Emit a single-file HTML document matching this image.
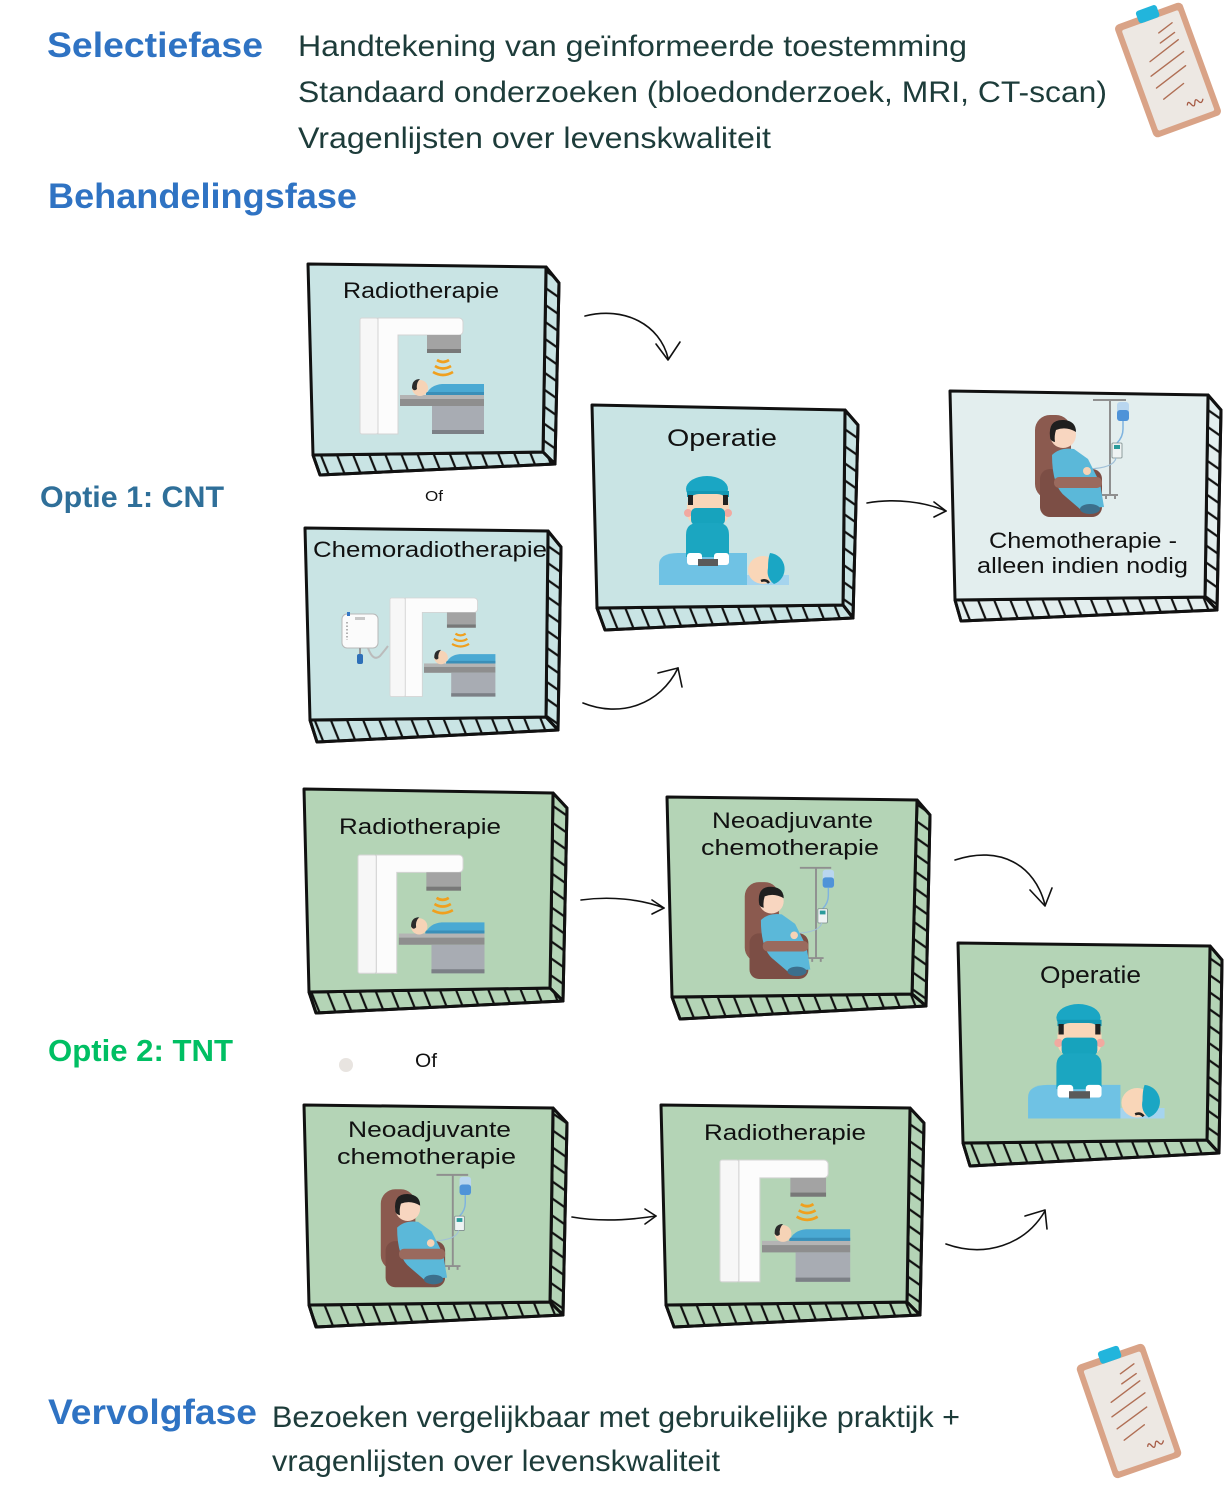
<!DOCTYPE html>
<html><head><meta charset="utf-8">
<style>
html,body{margin:0;padding:0;background:#fff;}
svg{display:block;}
text{font-family:"Liberation Sans",sans-serif;}
</style></head>
<body>
<svg width="1226" height="1489" viewBox="0 0 1226 1489" xmlns="http://www.w3.org/2000/svg">
<defs>
  <pattern id="hb" width="15" height="15" patternUnits="userSpaceOnUse" patternTransform="rotate(-22)">
    <line x1="7" y1="-2" x2="7" y2="17" stroke="#111" stroke-width="2.2"/>
  </pattern>
  <pattern id="hs" width="14" height="14" patternUnits="userSpaceOnUse" patternTransform="rotate(35)">
    <line x1="-2" y1="7" x2="16" y2="7" stroke="#111" stroke-width="2.2"/>
  </pattern>

  <g id="radio">
    <rect x="0" y="0" width="18" height="116" rx="2" fill="#f7f7f7" stroke="#d6d6d6" stroke-width="1"/>
    <path d="M18 0 H99 a4 4 0 0 1 4 4 V13 a4 4 0 0 1 -4 4 H38 V116 H18 Z" fill="#fcfcfc" stroke="#d3d3d3" stroke-width="1"/>
    <rect x="67" y="17" width="34" height="14" fill="#a3a3a3"/>
    <rect x="67" y="31" width="34" height="4" fill="#787878"/>
    <path d="M77 42 q6 4 12 0" stroke="#f0a01e" stroke-width="2.6" fill="none"/>
    <path d="M75 48 q8 5 16 0" stroke="#f0a01e" stroke-width="2.6" fill="none"/>
    <path d="M73 54 q10 6 20 0" stroke="#f0a01e" stroke-width="2.6" fill="none"/>
    <rect x="40" y="77" width="84" height="4" fill="#b4b4b4"/>
    <rect x="40" y="81" width="84" height="7" fill="#8e8e8e"/>
    <rect x="72" y="88" width="52" height="28" fill="#a8acb3"/>
    <rect x="72" y="112" width="52" height="4" fill="#7c8086"/>
    <path d="M66 77 q4 -10 16 -11 h42 v11 Z" fill="#4aa9d3"/>
    <path d="M66 77 h58 v-3 h-58 Z" fill="#3a8fb8"/>
    <circle cx="60" cy="70" r="8" fill="#f6d3b6"/>
    <path d="M52 70 q0 -9 8 -9 q-4 4 -3 10 q-3 3 -5 -1Z" fill="#2b2b2b"/>
  </g>

  <g id="chemo">
    <line x1="80" y1="3" x2="80" y2="98" stroke="#8f8f8f" stroke-width="2"/>
    <line x1="63" y1="3" x2="96" y2="3" stroke="#8f8f8f" stroke-width="2"/>
    <path d="M72 98 h16 M76 98 v4 M85 98 v4" stroke="#8f8f8f" stroke-width="2"/>
    <rect x="87" y="5" width="12" height="19" rx="3" fill="#b9d6ef"/>
    <rect x="87" y="13" width="12" height="11" rx="3" fill="#4f93d8"/>
    <path d="M93 24 v8 q0 8 -6 14" stroke="#7fb3df" stroke-width="1.5" fill="none"/>
    <rect x="82" y="46" width="10" height="15" rx="1" fill="#eef3f3" stroke="#7a8a8a" stroke-width="0.8"/>
    <rect x="84" y="48" width="6" height="4" fill="#2a9b9b"/>
    <path d="M86 61 q-2 10 -28 11" stroke="#a0c0d8" stroke-width="1.2" fill="none"/>
    <rect x="5" y="18" width="36" height="84" rx="15" fill="#8b5a4f"/>
    <rect x="10" y="72" width="62" height="48" rx="10" fill="#7c4e45"/>
    <path d="M22 58 Q30 50 44 52 L58 62 L70 86 L74 110 L50 112 L36 100 Q22 90 22 58Z" fill="#5bb8d9"/>
    <rect x="24" y="80" width="48" height="11" rx="5" fill="#9a6a5e"/>
    <circle cx="57" cy="74" r="4" fill="#f6d3b6"/>
    <circle cx="33" cy="38" r="13" fill="#f8d6c0"/>
    <path d="M20 40 q-2 -18 14 -17 q12 1 12 12 q-10 -6 -20 -2 q-2 6 -1 12 q-5 -1 -5 -5Z" fill="#1f1f1f"/>
    <ellipse cx="60" cy="112" rx="10" ry="5" fill="#3c6f8c"/>
  </g>

  <g id="surgeon">
    <path d="M1 110 V90 Q1 78 20 78 H89 V110 Z" fill="#6fc2e4"/>
    <ellipse cx="49" cy="14" rx="21" ry="13" fill="#1aa6c4"/>
    <rect x="29" y="16" width="42" height="6" fill="#1497b3"/>
    <rect x="29" y="19" width="42" height="31" rx="12" fill="#f9d6b8"/>
    <rect x="30" y="20" width="5" height="10" fill="#222"/>
    <rect x="65" y="20" width="5" height="10" fill="#222"/>
    <circle cx="30" cy="38" r="4" fill="#f2a9a0"/>
    <circle cx="70" cy="38" r="4" fill="#f2a9a0"/>
    <rect x="33" y="33" width="34" height="17" rx="5" fill="#17a3bd"/>
    <path d="M28 82 V60 Q28 48 40 48 H60 Q71 48 71 60 V82 Z" fill="#1ba6c1"/>
    <rect x="29" y="78" width="15" height="12" rx="3" fill="#ffffff"/>
    <rect x="56" y="78" width="15" height="12" rx="3" fill="#ffffff"/>
    <rect x="40" y="84" width="20" height="7" fill="#5a5a5a"/>
    <rect x="89" y="100" width="42" height="10" fill="#a5d4ee"/>
    <ellipse cx="105" cy="95" rx="15" ry="14" fill="#f9d6b8"/>
    <path d="M112 78 a16 16 0 0 1 4 31 q-8 -6 -6 -16 q0 -10 2 -15Z" fill="#1aa6c4"/>
    <path d="M103 106 q5 -2 8 2" stroke="#222" stroke-width="2.5" fill="none"/>
  </g>

  <g id="clip">
    <rect x="-36" y="-60" width="72" height="120" rx="5" fill="#d9a387"/>
    <rect x="-30" y="-53" width="60" height="107" rx="2" fill="#ede8e3"/>
    <rect x="-11" y="-66" width="22" height="13" rx="3" fill="#22b5dc"/>
    <path d="M4 -38 L20 -43 M2 -28 L19 -33 M-14 -14 L20 -25 M-18 0 L21 -12 M-17 13 L18 2 M-14 26 L10 18" stroke="#b06f55" stroke-width="1.4" fill="none" stroke-linecap="round"/>
    <path d="M6 40 q2 -5 4 0 q2 5 4 0 q2 -5 4 0 q2 4 5 -1" stroke="#a65b45" stroke-width="1.3" fill="none"/>
  </g>
</defs>

<!-- Clipboards -->
<use href="#clip" transform="translate(1168,70) rotate(-20)"/>
<use href="#clip" transform="translate(1129,1411) rotate(-19)"/>

<!-- Header text -->
<text x="47" y="57" font-size="35" font-weight="bold" fill="#2f73c3" textLength="216" lengthAdjust="spacingAndGlyphs">Selectiefase</text>
<text x="298" y="56" font-size="30" fill="#1d3c3a" textLength="669" lengthAdjust="spacingAndGlyphs">Handtekening van geïnformeerde toestemming</text>
<text x="298" y="102" font-size="30" fill="#1d3c3a" textLength="809" lengthAdjust="spacingAndGlyphs">Standaard onderzoeken (bloedonderzoek, MRI, CT-scan)</text>
<text x="298" y="148" font-size="30" fill="#1d3c3a" textLength="473" lengthAdjust="spacingAndGlyphs">Vragenlijsten over levenskwaliteit</text>
<text x="48" y="208" font-size="35" font-weight="bold" fill="#2f73c3" textLength="309" lengthAdjust="spacingAndGlyphs">Behandelingsfase</text>

<text x="40" y="507" font-size="30" font-weight="bold" fill="#2f6f99" textLength="184" lengthAdjust="spacingAndGlyphs">Optie 1: CNT</text>
<text x="48" y="1061" font-size="31" font-weight="bold" fill="#00bf63" textLength="185" lengthAdjust="spacingAndGlyphs">Optie 2: TNT</text>

<text x="425" y="501" font-size="15" fill="#111" textLength="18" lengthAdjust="spacingAndGlyphs">Of</text>
<circle cx="346" cy="1065" r="7" fill="#e8e4e0"/>
<text x="415" y="1067" font-size="19" fill="#111" textLength="22" lengthAdjust="spacingAndGlyphs">Of</text>

<text x="48" y="1424" font-size="35" font-weight="bold" fill="#2f73c3" textLength="209" lengthAdjust="spacingAndGlyphs">Vervolgfase</text>
<text x="272" y="1427" font-size="30" fill="#1d3c3a" textLength="688" lengthAdjust="spacingAndGlyphs">Bezoeken vergelijkbaar met gebruikelijke praktijk +</text>
<text x="272" y="1471" font-size="30" fill="#1d3c3a" textLength="448" lengthAdjust="spacingAndGlyphs">vragenlijsten over levenskwaliteit</text>

<!-- Boxes -->
<g stroke="#111" stroke-width="3" stroke-linejoin="round">
  <!-- A -->
  <polygon points="546,267 559,283 555,464 543,452" fill="#c9e4e4"/>
  <polygon points="546,267 559,283 555,464 543,452" fill="url(#hs)"/>
  <polygon points="313,455 543,452 555,464 320,475" fill="#c9e4e4"/>
  <polygon points="313,455 543,452 555,464 320,475" fill="url(#hb)"/>
  <polygon points="308,264 546,267 543,452 313,455" fill="#c9e4e4"/>
  <!-- B -->
  <polygon points="548,531 561,547 558,730 546,717" fill="#c9e4e4"/>
  <polygon points="548,531 561,547 558,730 546,717" fill="url(#hs)"/>
  <polygon points="310,720 546,717 558,730 317,742" fill="#c9e4e4"/>
  <polygon points="310,720 546,717 558,730 317,742" fill="url(#hb)"/>
  <polygon points="305,528 548,531 546,717 310,720" fill="#c9e4e4"/>
  <!-- C -->
  <polygon points="845,410 858,425 853,618 843,605" fill="#c9e4e4"/>
  <polygon points="845,410 858,425 853,618 843,605" fill="url(#hs)"/>
  <polygon points="597,608 843,605 853,618 605,630" fill="#c9e4e4"/>
  <polygon points="597,608 843,605 853,618 605,630" fill="url(#hb)"/>
  <polygon points="592,405 845,410 843,605 597,608" fill="#c9e4e4"/>
  <!-- D -->
  <polygon points="1208,395 1221,410 1217,610 1205,597" fill="#e3eeee"/>
  <polygon points="1208,395 1221,410 1217,610 1205,597" fill="url(#hs)"/>
  <polygon points="955,600 1205,597 1217,610 961,621" fill="#e3eeee"/>
  <polygon points="955,600 1205,597 1217,610 961,621" fill="url(#hb)"/>
  <polygon points="950,391 1208,395 1205,597 955,600" fill="#e3eeee"/>
  <!-- E -->
  <polygon points="553,793 567,808 563,1001 550,988" fill="#b4d4b6"/>
  <polygon points="553,793 567,808 563,1001 550,988" fill="url(#hs)"/>
  <polygon points="309,992 550,988 563,1001 316,1013" fill="#b4d4b6"/>
  <polygon points="309,992 550,988 563,1001 316,1013" fill="url(#hb)"/>
  <polygon points="304,789 553,793 550,988 309,992" fill="#b4d4b6"/>
  <!-- F -->
  <polygon points="917,800 930,815 926,1006 912,994" fill="#b4d4b6"/>
  <polygon points="917,800 930,815 926,1006 912,994" fill="url(#hs)"/>
  <polygon points="672,997 912,994 926,1006 680,1019" fill="#b4d4b6"/>
  <polygon points="672,997 912,994 926,1006 680,1019" fill="url(#hb)"/>
  <polygon points="667,797 917,800 912,994 672,997" fill="#b4d4b6"/>
  <!-- G -->
  <polygon points="1210,946 1222,960 1219,1153 1207,1140" fill="#b4d4b6"/>
  <polygon points="1210,946 1222,960 1219,1153 1207,1140" fill="url(#hs)"/>
  <polygon points="963,1143 1207,1140 1219,1153 970,1166" fill="#b4d4b6"/>
  <polygon points="963,1143 1207,1140 1219,1153 970,1166" fill="url(#hb)"/>
  <polygon points="958,943 1210,946 1207,1140 963,1143" fill="#b4d4b6"/>
  <!-- H -->
  <polygon points="553,1108 567,1123 563,1315 550,1302" fill="#b4d4b6"/>
  <polygon points="553,1108 567,1123 563,1315 550,1302" fill="url(#hs)"/>
  <polygon points="309,1305 550,1302 563,1315 316,1327" fill="#b4d4b6"/>
  <polygon points="309,1305 550,1302 563,1315 316,1327" fill="url(#hb)"/>
  <polygon points="304,1105 553,1108 550,1302 309,1305" fill="#b4d4b6"/>
  <!-- I -->
  <polygon points="910,1108 924,1123 920,1315 907,1302" fill="#b4d4b6"/>
  <polygon points="910,1108 924,1123 920,1315 907,1302" fill="url(#hs)"/>
  <polygon points="666,1305 907,1302 920,1315 674,1327" fill="#b4d4b6"/>
  <polygon points="666,1305 907,1302 920,1315 674,1327" fill="url(#hb)"/>
  <polygon points="661,1105 910,1108 907,1302 666,1305" fill="#b4d4b6"/>
</g>

<!-- Illustrations -->
<use href="#radio" transform="translate(360,318)"/>
<use href="#radio" transform="translate(358,855) scale(1.02)"/>
<use href="#radio" transform="translate(720,1160) scale(1.05)"/>
<use href="#radio" transform="translate(390,598) scale(0.85)"/>
<!-- IV bag in chemoradiotherapie -->
<g>
  <rect x="342" y="614" width="36" height="34" rx="5" fill="#fbfbfb" stroke="#b8b8b8" stroke-width="1"/>
  <rect x="355" y="617" width="10" height="3" fill="#c8c8c8"/>
  <path d="M347 622 v18" stroke="#999" stroke-width="1.5" stroke-dasharray="1.5 2"/>
  <rect x="347" y="612" width="3" height="4" fill="#3577c4"/>
  <path d="M360 648 v6" stroke="#999" stroke-width="2"/>
  <rect x="357" y="654" width="6" height="10" rx="2" fill="#2d6fb8"/>
  <path d="M368 648 q5 14 12 8 q5 -6 8 -10" stroke="#bbb" stroke-width="2" fill="none"/>
</g>
<use href="#chemo" transform="translate(1030,397)"/>
<use href="#chemo" transform="translate(740,865) scale(0.95)"/>
<use href="#chemo" transform="translate(376,1172) scale(0.96)"/>
<use href="#surgeon" transform="translate(658,475)"/>
<use href="#surgeon" transform="translate(1027,1003) scale(1.05)"/>

<!-- Box labels -->
<g fill="#111" font-size="22">
  <text x="343" y="298" textLength="156" lengthAdjust="spacingAndGlyphs">Radiotherapie</text>
  <text x="313" y="557" textLength="234" lengthAdjust="spacingAndGlyphs">Chemoradiotherapie</text>
  <text x="667" y="446" font-size="24" textLength="110" lengthAdjust="spacingAndGlyphs">Operatie</text>
  <text x="989" y="548" textLength="188" lengthAdjust="spacingAndGlyphs">Chemotherapie -</text>
  <text x="977" y="573" textLength="211" lengthAdjust="spacingAndGlyphs">alleen indien nodig</text>
  <text x="339" y="834" textLength="162" lengthAdjust="spacingAndGlyphs">Radiotherapie</text>
  <text x="712" y="828" textLength="161" lengthAdjust="spacingAndGlyphs">Neoadjuvante</text>
  <text x="701" y="855" textLength="178" lengthAdjust="spacingAndGlyphs">chemotherapie</text>
  <text x="1040" y="983" font-size="24" textLength="101" lengthAdjust="spacingAndGlyphs">Operatie</text>
  <text x="348" y="1137" textLength="163" lengthAdjust="spacingAndGlyphs">Neoadjuvante</text>
  <text x="337" y="1164" textLength="179" lengthAdjust="spacingAndGlyphs">chemotherapie</text>
  <text x="704" y="1140" textLength="162" lengthAdjust="spacingAndGlyphs">Radiotherapie</text>
</g>

<!-- Arrows -->
<g stroke="#111" stroke-width="1.6" fill="none" stroke-linecap="round" stroke-linejoin="round">
  <path d="M585 316 C625 306 660 325 668 358"/>
  <path d="M656 344 L668 360 L680 342"/>
  <path d="M583 703 C620 718 660 705 678 668"/>
  <path d="M658 673 L678 668 L682 687"/>
  <path d="M867 503 C895 498 925 502 946 511"/>
  <path d="M934 502 L946 511 L934 517"/>
  <path d="M581 900 C610 896 640 899 664 908"/>
  <path d="M652 900 L664 908 L652 914"/>
  <path d="M955 860 C1000 845 1035 865 1045 905"/>
  <path d="M1030 890 L1045 906 L1052 888"/>
  <path d="M572 1217 C600 1222 630 1220 656 1216"/>
  <path d="M645 1209 L656 1216 L645 1224"/>
  <path d="M946 1244 C985 1258 1025 1245 1045 1211"/>
  <path d="M1025 1216 L1045 1210 L1047 1229"/>
</g>
</svg>
</body></html>
